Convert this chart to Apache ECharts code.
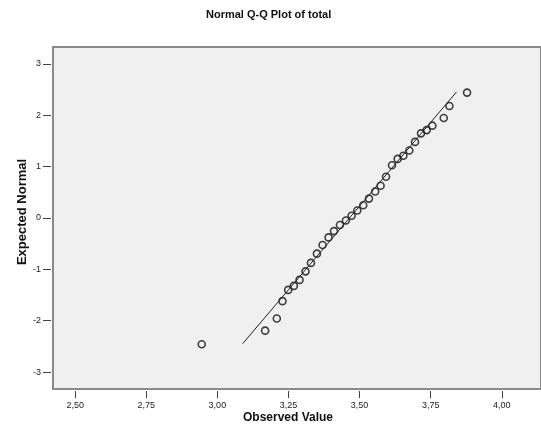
<!DOCTYPE html>
<html>
<head>
<meta charset="utf-8">
<script src="https://cdn.jsdelivr.net/npm/echarts@6/dist/echarts.min.js"></script>
<style>html,body{margin:0;padding:0;background:#fff}#c{width:541px;height:435px}</style>
</head>
<body>
<div id="c"></div>
<script>
var observed = [2.945,3.168,3.209,3.229,3.249,3.269,3.289,3.310,3.329,3.350,3.370,3.391,3.410,3.431,3.452,3.472,3.492,3.513,3.533,3.555,3.574,3.593,3.614,3.634,3.654,3.675,3.695,3.716,3.736,3.756,3.796,3.816,3.878];
var expected = [-2.459,-2.194,-1.956,-1.619,-1.400,-1.322,-1.205,-1.039,-0.874,-0.694,-0.527,-0.378,-0.255,-0.137,-0.049,0.043,0.146,0.248,0.378,0.515,0.628,0.803,1.028,1.151,1.213,1.314,1.482,1.648,1.712,1.798,1.948,2.180,2.442];
var lineX = [3.089, 3.841];
var lineY = [-2.447, 2.455];
var xTicks = [2.5, 2.75, 3.0, 3.25, 3.5, 3.75, 4.0];
var yTicks = [-3, -2, -1, 0, 1, 2, 3];
var titleText = 'Normal Q-Q Plot of total';
var xName = 'Observed Value';
var yName = 'Expected Normal';

var pts = observed.map(function(v, i){ return [v, expected[i]]; });
var linePts = lineX.map(function(v, i){ return [v, lineY[i]]; });
var font = 'Arial, "Liberation Sans", sans-serif';

var chart = echarts.init(document.getElementById('c'), null, {renderer: 'canvas'});
chart.setOption({
  animation: false,
  backgroundColor: '#ffffff',
  title: {
    text: titleText, left: 201, top: 4,
    textStyle: {fontFamily: font, fontSize: 11, fontWeight: 'bold', color: '#111'}
  },
  grid: {
    left: 53, top: 47, right: 0, bottom: 46,
    show: true, backgroundColor: '#f0f0f0', borderColor: '#8a8a8a', borderWidth: 2
  },
  xAxis: {
    type: 'value', min: 2.422, max: 4.138, offset: 2,
    axisLine: {show: false, onZero: false},
    splitLine: {show: false},
    axisTick: {show: true, length: 7, customValues: xTicks, lineStyle: {color: '#444'}},
    axisLabel: {
      customValues: xTicks, margin: 10, color: '#222', fontFamily: font, fontSize: 9,
      formatter: function(v){ return v.toFixed(2).replace('.', ','); }
    }
  },
  yAxis: {
    type: 'value', min: -3.33, max: 3.33, offset: 2,
    axisLine: {show: false, onZero: false},
    splitLine: {show: false},
    axisTick: {show: true, length: 8, customValues: yTicks, lineStyle: {color: '#444'}},
    axisLabel: {customValues: yTicks, margin: 10, color: '#222', fontFamily: font, fontSize: 9}
  },
  graphic: [
    {type: 'text', x: 288, y: 418, style: {text: xName, fontFamily: font, fontSize: 12, fontWeight: 'bold', fill: '#111', textAlign: 'center', textVerticalAlign: 'middle'}},
    {type: 'text', x: 22, y: 212, rotation: Math.PI / 2, style: {text: yName, fontFamily: font, fontSize: 13, fontWeight: 'bold', fill: '#111', textAlign: 'center', textVerticalAlign: 'middle'}}
  ],
  series: [
    {
      type: 'line', data: linePts, symbol: 'none', silent: true,
      lineStyle: {color: '#222', width: 1}
    },
    {
      type: 'scatter', data: pts, symbol: 'circle', symbolSize: 7,
      itemStyle: {color: 'rgba(0,0,0,0)', borderColor: '#111', borderWidth: 1.6}
    }
  ]
});
</script>
</body>
</html>
